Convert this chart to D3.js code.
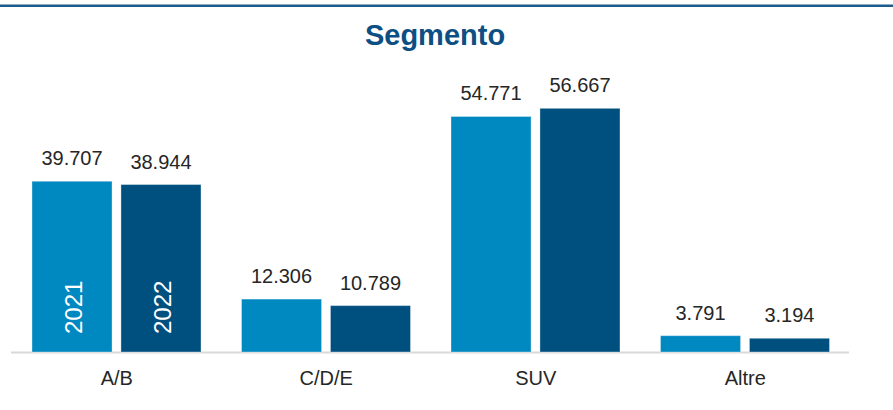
<!DOCTYPE html>
<html>
<head>
<meta charset="utf-8">
<script src="https://cdn.jsdelivr.net/npm/d3@7"></script>
<style>
  body { margin: 0; background: #fff; }
  svg { display: block; font-family: "Liberation Sans", Arial, sans-serif; }
</style>
</head>
<body>
<div id="chart"></div>
<script>
// Chart data
var categories = ["A/B", "C/D/E", "SUV", "Altre"];
var years = ["2021", "2022"];
var values2021 = [39707, 12306, 54771, 3791];
var values2022 = [38944, 10789, 56667, 3194];

var svgWidth = 893;
var svgHeight = 410;
var baseY = 352;

var colors = { "2021": "#0088c1", "2022": "#00507f" };

var fmt = d3.formatLocale({ decimal: ",", thousands: ".", grouping: [3], currency: ["", "€"] }).format(",");

var svg = d3.select("#chart")
  .append("svg")
  .attr("width", svgWidth)
  .attr("height", svgHeight);

// top rule
svg.append("rect")
  .attr("x", 0).attr("y", 4.5)
  .attr("width", svgWidth).attr("height", 2.5)
  .attr("fill", "#1b5b8e");

// title
svg.append("text")
  .attr("x", 435)
  .attr("y", 45)
  .attr("text-anchor", "middle")
  .attr("font-size", "29px")
  .attr("font-weight", "bold")
  .attr("fill", "#0d4f83")
  .text("Segmento");

// scales
var x0 = d3.scaleBand().domain(categories).range([11, 849]);
var x1 = d3.scaleBand().domain(years).range([21, 190]).paddingInner(0.1);
var y = d3.scaleLinear().domain([0, 60000]).range([baseY, baseY - 258]);

var rows = categories.map(function(c, i) {
  return { cat: c, vals: [
    { year: "2021", value: values2021[i] },
    { year: "2022", value: values2022[i] }
  ] };
});

// axis line
svg.append("line")
  .attr("x1", 11).attr("x2", 849)
  .attr("y1", baseY + 0.5).attr("y2", baseY + 0.5)
  .attr("stroke", "#d9d9d9")
  .attr("stroke-width", 2);

var groups = svg.selectAll("g.grp")
  .data(rows)
  .enter()
  .append("g")
  .attr("class", "grp")
  .attr("transform", d => `translate(${x0(d.cat)},0)`);

groups.selectAll("rect")
  .data(d => d.vals)
  .enter()
  .append("rect")
  .attr("x", d => x1(d.year))
  .attr("y", d => y(d.value))
  .attr("width", x1.bandwidth())
  .attr("height", d => baseY - y(d.value))
  .attr("fill", d => colors[d.year])
  .attr("stroke", "#ffffff")
  .attr("stroke-opacity", 0.35)
  .attr("stroke-width", 1);

// value labels
groups.selectAll("text.val")
  .data(d => d.vals)
  .enter()
  .append("text")
  .attr("class", "val")
  .attr("x", d => x1(d.year) + x1.bandwidth() / 2)
  .attr("y", d => y(d.value) - 16)
  .attr("text-anchor", "middle")
  .attr("font-size", "20px")
  .attr("fill", "#262626")
  .text(d => fmt(d.value));

// category labels
svg.selectAll("text.cat")
  .data(categories)
  .enter()
  .append("text")
  .attr("class", "cat")
  .attr("x", d => x0(d) + x0.bandwidth() / 2 + 1)
  .attr("y", 385)
  .attr("text-anchor", "middle")
  .attr("font-size", "20px")
  .attr("fill", "#262626")
  .text(d => d);

// year labels inside first group bars
var first = rows[0];
svg.selectAll("text.year")
  .data(first.vals)
  .enter()
  .append("text")
  .attr("class", "year")
  .attr("transform", d => {
    var cx = x0(first.cat) + x1(d.year) + x1.bandwidth() / 2 + 10;
    return `translate(${cx},334) rotate(-90)`;
  })
  .attr("font-size", "24px")
  .attr("fill", "#ffffff")
  .text(d => d.year);
</script>
</body>
</html>
